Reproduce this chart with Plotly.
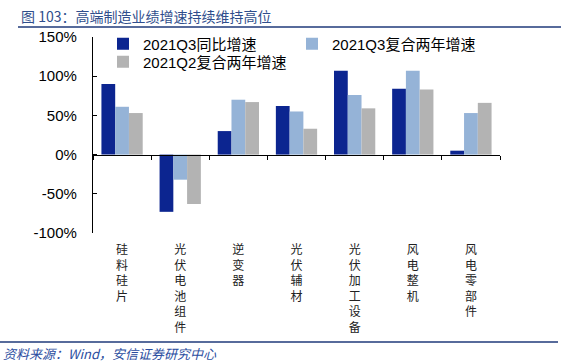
import plotly.graph_objects as go

categories = ["硅料硅片", "光伏电池组件", "逆变器", "光伏辅材", "光伏加工设备", "风电整机", "风电零部件"]
q3_yoy = [90, -73, 30, 62, 107, 84, 5]
q3_cagr2 = [61, -32, 70, 55, 76, 107, 53]
q2_cagr2 = [53, -63, 67, 33, 59, 83, 66]
y_ticks = [-100, -50, 0, 50, 100, 150]
y_tick_text = [f"{v}%" for v in y_ticks]

tick_labels = ["<br>".join(list(c)) for c in categories]

W, H = 579, 363
L, R, T, B = 93, 79, 37, 130
pw = W - L - R
ph = H - T - B


def px_x(px):
    return (px - L) / pw


def px_y(py):
    return (H - B - py) / ph


fig = go.Figure()
fig.add_trace(go.Bar(x=categories, y=q3_yoy, name="2021Q3同比增速",
                     marker=dict(color="#0C2590", line=dict(width=0)), legend="legend"))
fig.add_trace(go.Bar(x=categories, y=q3_cagr2, name="2021Q3复合两年增速",
                     marker=dict(color="#95B3D7", line=dict(width=0)), legend="legend2"))
fig.add_trace(go.Bar(x=categories, y=q2_cagr2, name="2021Q2复合两年增速",
                     marker=dict(color="#B3B3B3", line=dict(width=0)), legend="legend3"))
# invisible trace to carry the zero-level axis line with boundary ticks
fig.add_trace(go.Scatter(x=categories, y=[None] * len(categories), xaxis="x2",
                         showlegend=False, hoverinfo="skip", mode="markers"))

ymin, ymax = -100, 150
zero_pos = (0 - ymin) / (ymax - ymin)

font_main = "Liberation Sans, Arial, Noto Sans CJK SC, sans-serif"
leg_common = dict(xanchor="left", yanchor="middle", orientation="v",
                  bgcolor="rgba(0,0,0,0)", font=dict(size=15, family=font_main),
                  itemwidth=30)

fig.update_layout(
    width=W, height=H,
    margin=dict(l=L, r=R, t=T, b=B),
    paper_bgcolor="white", plot_bgcolor="white",
    barmode="group", bargap=0.29, bargroupgap=0,
    font=dict(family=font_main, color="black"),
    showlegend=True,
    xaxis=dict(categoryorder="array", categoryarray=categories,
               tickmode="array", tickvals=categories, ticktext=tick_labels,
               showline=False, ticks="", showgrid=False, zeroline=False,
               tickfont=dict(size=12, family="Noto Sans CJK SC, sans-serif", color="#222"),
               ticklabelstandoff=8, range=[-0.5, 6.5], automargin=False),
    xaxis2=dict(overlaying="x", anchor="free", position=zero_pos, matches="x",
                showline=True, linecolor="black", linewidth=1.2,
                ticks="outside", ticklen=4, tickcolor="black", tickson="boundaries",
                showticklabels=False, showgrid=False, zeroline=False, automargin=False),
    yaxis=dict(range=[ymin, ymax], tickmode="array", tickvals=y_ticks, ticktext=y_tick_text,
               showline=True, linecolor="black", linewidth=1.2,
               ticks="inside", ticklen=4, tickcolor="black",
               showgrid=False, zeroline=False,
               tickfont=dict(size=15, family=font_main, color="black"),
               ticklabelstandoff=12, automargin=False),
    legend=dict(x=px_x(103), y=px_y(44), **leg_common),
    legend2=dict(x=px_x(292), y=px_y(44), **leg_common),
    legend3=dict(x=px_x(103), y=px_y(62), **leg_common),
)

# title and source
fig.add_annotation(text="图 103：高端制造业绩增速持续维持高位", xref="paper", yref="paper",
                   x=px_x(19), y=px_y(16), xanchor="left", yanchor="middle",
                   showarrow=False,
                   font=dict(size=14, color="#2F4E8C", family="Noto Sans CJK SC, sans-serif"))
fig.add_shape(type="line", xref="paper", yref="paper",
              x0=px_x(18), x1=px_x(561), y0=px_y(27), y1=px_y(27),
              line=dict(color="#1F3A7A", width=1.5))
fig.add_shape(type="line", xref="paper", yref="paper",
              x0=px_x(0), x1=px_x(558), y0=px_y(342), y1=px_y(342),
              line=dict(color="#1F3A7A", width=1.5))
fig.add_annotation(text="<i>资料来源：Wind，安信证券研究中心</i>", xref="paper", yref="paper",
                   x=px_x(1), y=px_y(353), xanchor="left", yanchor="middle",
                   showarrow=False,
                   font=dict(size=13, color="#2B4DA0", family="Noto Sans CJK SC, Liberation Sans, sans-serif"))

fig.write_html("out.html", config={"displayModeBar": False},
               post_script="document.body.style.margin='0';")
